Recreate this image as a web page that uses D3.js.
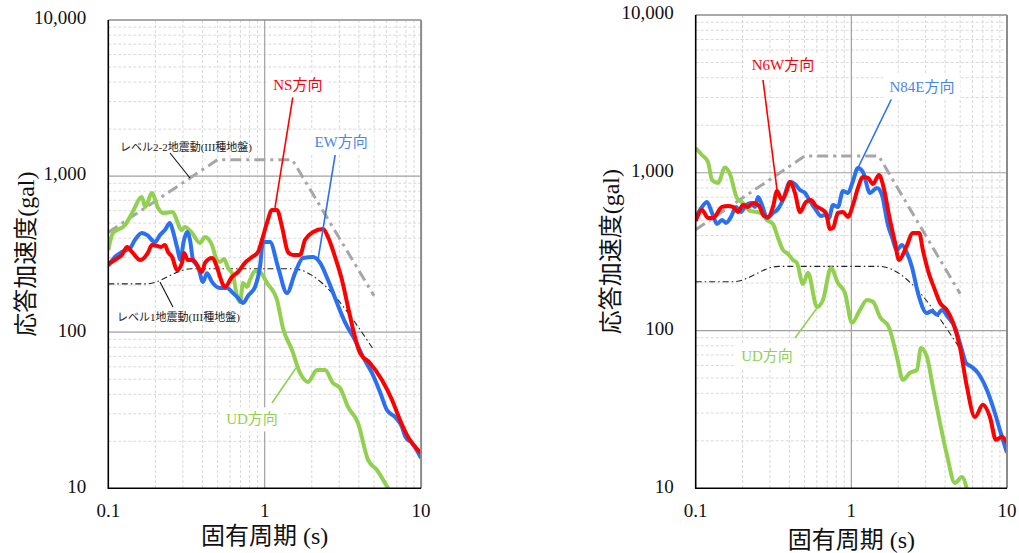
<!DOCTYPE html>
<html>
<head>
<meta charset="utf-8">
<script src="https://cdn.jsdelivr.net/npm/d3@7"></script>
<style>
  body { margin: 0; background: #fff; }
  text { font-family: "Liberation Serif", "Noto Sans CJK JP", serif; }
</style>
</head>
<body>
<div id="chart-area"></div>
<script>
// response spectra, [period (s), acceleration (gal)]
var nsLeft = [[0.1,274],[0.110,290],[0.122,312],[0.132,351],[0.142,326],[0.160,290],[0.179,322],[0.190,362],[0.205,357],[0.217,351],[0.230,362],[0.241,326],[0.256,303],[0.275,250],[0.296,278],[0.305,322],[0.323,290],[0.348,290],[0.397,243],[0.415,278],[0.460,299],[0.495,262],[0.518,226],[0.557,195],[0.618,226],[0.675,243],[0.748,278],[0.830,303],[0.906,326],[0.961,390],[1.034,501],[1.113,607],[1.198,607],[1.291,472],[1.409,326],[1.517,312],[1.682,312],[1.81,390],[2.04,438],[2.36,458],[2.54,407],[2.82,303],[3.12,216],[3.41,145],[3.78,93],[4.07,73.5],[4.71,63.5],[5.62,49.4],[6.52,36.8],[7.33,27.4],[8.25,21.3],[10,16.8]];
var ewLeft = [[0.1,266],[0.110,303],[0.122,326],[0.138,346],[0.148,390],[0.164,432],[0.177,419],[0.199,378],[0.214,419],[0.230,451],[0.248,501],[0.260,438],[0.275,351],[0.290,290],[0.302,373],[0.319,438],[0.333,390],[0.348,290],[0.375,262],[0.403,210],[0.428,239],[0.460,210],[0.518,192],[0.574,192],[0.627,178],[0.675,166],[0.727,154],[0.782,171],[0.867,195],[0.933,262],[0.975,378],[1.081,378],[1.216,262],[1.388,178],[1.562,239],[1.757,299],[2.04,303],[2.26,278],[2.54,216],[2.90,154],[3.26,116],[3.78,89],[4.25,69.4],[4.85,54.8],[5.46,41.4],[6.05,31.7],[6.81,28.6],[7.55,24.7],[7.95,21.3],[8.75,19.5],[10,15.6]];
var udLeft = [[0.1,336],[0.107,432],[0.128,486],[0.142,580],[0.164,735],[0.172,634],[0.190,779],[0.208,625],[0.224,580],[0.256,589],[0.296,451],[0.309,472],[0.343,432],[0.386,373],[0.415,407],[0.460,362],[0.495,290],[0.518,282],[0.549,294],[0.583,258],[0.627,232],[0.665,171],[0.695,156],[0.727,207],[0.770,195],[0.805,216],[0.867,247],[0.933,243],[1.034,207],[1.198,161],[1.309,106],[1.495,76.9],[1.682,54.8],[1.892,48],[2.16,57.3],[2.43,57.3],[2.73,47.3],[3.03,43.9],[3.41,33.2],[3.95,26.2],[4.58,15.2],[5.22,13.1],[6.14,10],[6.6,8.8]];

var n6wRight = [[0.1,495],[0.1097,581],[0.12,517],[0.1292,517],[0.1475,607],[0.1613,616],[0.1736,607],[0.187,564],[0.201,625],[0.2167,607],[0.2334,644],[0.255,616],[0.2747,532],[0.2914,525],[0.3137,607],[0.3329,767],[0.3584,672],[0.386,778],[0.4033,874],[0.4343,745],[0.4677,564],[0.511,653],[0.55,672],[0.5925,616],[0.638,590],[0.687,556],[0.729,440],[0.762,447],[0.82,556],[0.883,564],[0.951,525],[1.024,625],[1.102,801],[1.187,940],[1.279,927],[1.377,849],[1.504,968],[1.62,790],[1.76,517],[1.905,364],[2.022,280],[2.242,334],[2.486,415],[2.73,415],[2.88,324],[3.1,242],[3.44,181],[3.71,150],[4.11,135],[4.49,113],[4.98,78.7],[5.53,43.9],[6.22,28.3],[7.0,33.8],[7.77,28.3],[8.49,20.3],[9.27,21.2],[10,19.4]];
var n84eRight = [[0.1,517],[0.1097,607],[0.1182,653],[0.1273,556],[0.137,474],[0.1475,502],[0.1565,481],[0.1686,525],[0.1815,607],[0.1954,564],[0.2104,625],[0.2266,644],[0.2404,607],[0.2513,703],[0.2666,625],[0.287,517],[0.3137,556],[0.338,590],[0.3637,672],[0.4033,874],[0.4343,849],[0.4677,778],[0.5035,745],[0.542,663],[0.5925,581],[0.638,532],[0.687,541],[0.718,517],[0.762,625],[0.82,607],[0.883,767],[0.951,745],[1.024,887],[1.102,1072],[1.187,1012],[1.317,745],[1.46,801],[1.573,723],[1.718,467],[1.823,392],[1.963,324],[2.113,349],[2.276,310],[2.45,253],[2.678,173],[3.06,129],[3.29,133],[3.55,126],[3.82,135],[4.17,122],[4.63,105],[5.13,75.4],[5.45,62.3],[5.95,58.8],[6.5,53.9],[7.43,42],[8.36,30],[9.0,23.4],[10,16.8]];
var udRight = [[0.1,1436],[0.1097,1297],[0.12,1171],[0.1273,900],[0.139,862],[0.1543,1080],[0.166,982],[0.184,692],[0.201,644],[0.223,573],[0.2476,564],[0.2666,548],[0.287,502],[0.3137,474],[0.338,386],[0.3637,324],[0.3916,306],[0.4217,280],[0.4473,268],[0.4889,197],[0.5265,232],[0.6016,141],[0.657,156],[0.7396,249],[0.82,200],[0.91,173],[1.009,112],[1.136,135],[1.26,156],[1.377,152],[1.527,122],[1.744,105],[1.963,68],[2.145,48.6],[2.379,53.9],[2.638,56.3],[2.8,77.6],[3.06,68],[3.34,43.9],[3.71,26],[4.11,16.3],[4.63,10.8],[5.13,11.8],[5.61,9.3]];

// design spectra corner points (same in both panels)
var level22 = [[0.1,436],[0.5,1275],[1.5,1275],[5,171]];
var level1 = [[0.1,204],[0.174,204],[0.34,255],[1.5,255],[5,76.5]];

var xTicks = [0.1, 1, 10];
var xTickLabels = ["0.1", "1", "10"];
var yTicks = [10, 100, 1000, 10000];
var yTickLabels = ["10", "100", "1,000", "10,000"];

var RED = "#ff0000", BLUE = "#2a70f0", GREEN = "#92d050";

var svg = d3.select("#chart-area").append("svg")
  .attr("width", 1019).attr("height", 553);

var panels = [
  { left: 108.3, right: 421.1, top: 20, bottom: 488.3, ytitleX: 28, xtitleY: 538,
    series: [[udLeft, GREEN], [ewLeft, BLUE], [nsLeft, RED]],
    notes: [
      { text: "NS方向", color: RED, at: [1.63, 3720], from: [1.52, 3307], to: [1.163, 625], size: 15, box: true },
      { text: "EW方向", color: "#4a84ee", lc: BLUE, at: [3.08, 1606], from: [2.82, 1365], to: [2.19, 290], size: 15, box: true },
      { text: "UD方向", color: GREEN, at: [0.83, 27], from: [1.113, 35.2], to: [1.585, 59], size: 15, box: true },
      { text: "レベル2-2地震動(III種地盤)", color: "#222", lc: "#111", at: [0.1188, 1514], from: [0.248, 1406], to: [0.333, 972], size: 11, anchor: "start" },
      { text: "レベル1地震動(III種地盤)", color: "#222", lc: "#111", at: [0.1137, 123], from: [0.214, 210], to: [0.259, 145], size: 11, anchor: "start" }
    ] },
  { left: 695.7, right: 1007, top: 15, bottom: 488.3, ytitleX: 613, xtitleY: 542,
    series: [[udRight, GREEN], [n84eRight, BLUE], [n6wRight, RED]],
    notes: [
      { text: "N6W方向", color: RED, at: [0.3637, 4683], from: [0.2706, 3873], to: [0.333, 778], size: 15, box: true },
      { text: "N84E方向", color: "#4a84ee", lc: BLUE, at: [2.84, 3397], from: [1.85, 3066], to: [1.102, 1072], size: 15, box: true },
      { text: "UD方向", color: GREEN, at: [0.287, 67.1], from: [0.4343, 89.8], to: [0.6016, 139], size: 15, box: true }
    ] }
];

panels.forEach(function(p, i) {
  var x = d3.scaleLog().domain([0.1, 10]).range([p.left, p.right]);
  var y = d3.scaleLog().domain([10, 10000]).range([p.bottom, p.top]);
  var g = svg.append("g");

  // minor grid
  x.ticks().forEach(function(t) {
    if (xTicks.indexOf(t) >= 0) return;
    g.append("line").attr("x1", x(t)).attr("x2", x(t)).attr("y1", p.top).attr("y2", p.bottom)
      .attr("stroke", "#d9d9d9").attr("stroke-width", 1).attr("stroke-dasharray", "3,2");
  });
  y.ticks().forEach(function(t) {
    if (yTicks.indexOf(t) >= 0) return;
    g.append("line").attr("x1", p.left).attr("x2", p.right).attr("y1", y(t)).attr("y2", y(t))
      .attr("stroke", "#d9d9d9").attr("stroke-width", 1).attr("stroke-dasharray", "3,2");
  });
  // major grid
  [1].forEach(function(t) {
    g.append("line").attr("x1", x(t)).attr("x2", x(t)).attr("y1", p.top).attr("y2", p.bottom)
      .attr("stroke", "#a0a0a0").attr("stroke-width", 1.2);
  });
  [100, 1000].forEach(function(t) {
    g.append("line").attr("x1", p.left).attr("x2", p.right).attr("y1", y(t)).attr("y2", y(t))
      .attr("stroke", "#a0a0a0").attr("stroke-width", 1.2);
  });

  var clipId = "clip" + i;
  svg.append("clipPath").attr("id", clipId).append("rect")
    .attr("x", p.left).attr("y", p.top).attr("width", p.right - p.left).attr("height", p.bottom - p.top);
  var plot = g.append("g").attr("clip-path", "url(#" + clipId + ")");

  var straight = d3.line().x(function(d) { return x(d[0]); }).y(function(d) { return y(d[1]); });
  var smooth = d3.line().x(function(d) { return x(d[0]); }).y(function(d) { return y(d[1]); })
    .curve(d3.curveMonotoneX);

  plot.append("path").attr("d", straight(level22)).attr("fill", "none")
    .attr("stroke", "#a6a6a6").attr("stroke-width", 3).attr("stroke-dasharray", "11,5,3,5");
  plot.append("path").attr("d", smooth(level1)).attr("fill", "none")
    .attr("stroke", "#222").attr("stroke-width", 1.1).attr("stroke-dasharray", "6,3,1.5,3");

  p.series.forEach(function(s) {
    plot.append("path").attr("d", smooth(s[0])).attr("fill", "none")
      .attr("stroke", s[1]).attr("stroke-width", 4).attr("stroke-linejoin", "round");
  });

  // annotations
  p.notes.forEach(function(n) {
    g.append("line").attr("x1", x(n.from[0])).attr("y1", y(n.from[1]))
      .attr("x2", x(n.to[0])).attr("y2", y(n.to[1]))
      .attr("stroke", n.lc || n.color).attr("stroke-width", n.size > 12 ? 1.6 : 1.1);
    var lg = g.append("g");
    var t = lg.append("text").attr("x", x(n.at[0])).attr("y", y(n.at[1]))
      .attr("text-anchor", n.anchor || "middle").attr("dominant-baseline", "middle")
      .attr("font-size", n.size).attr("fill", n.color).text(n.text);
    if (n.box) {
      var b = t.node().getBBox();
      lg.insert("rect", "text").attr("x", b.x - 6).attr("y", b.y - 4)
        .attr("width", b.width + 12).attr("height", b.height + 8).attr("fill", "#fff");
    }
  });

  // frame
  g.append("line").attr("x1", p.left).attr("x2", p.right).attr("y1", p.top).attr("y2", p.top)
    .attr("stroke", "#8c8c8c").attr("stroke-width", 1.5);
  g.append("line").attr("x1", p.right).attr("x2", p.right).attr("y1", p.top).attr("y2", p.bottom)
    .attr("stroke", "#8c8c8c").attr("stroke-width", 2);
  g.append("line").attr("x1", p.left).attr("x2", p.left).attr("y1", p.top).attr("y2", p.bottom + 0.8)
    .attr("stroke", "#000").attr("stroke-width", 1.6);
  g.append("line").attr("x1", p.left).attr("x2", p.right).attr("y1", p.bottom).attr("y2", p.bottom)
    .attr("stroke", "#000").attr("stroke-width", 1.6);

  // tick labels
  yTicks.forEach(function(t, k) {
    g.append("text").attr("x", p.left - 22).attr("y", y(t)).attr("text-anchor", "end")
      .attr("dominant-baseline", "middle").attr("font-size", 19).attr("fill", "#111").text(yTickLabels[k]);
  });
  xTicks.forEach(function(t, k) {
    g.append("text").attr("x", x(t)).attr("y", 513).attr("text-anchor", "middle")
      .attr("dominant-baseline", "middle").attr("font-size", 19).attr("fill", "#111").text(xTickLabels[k]);
  });

  // axis titles
  g.append("text").attr("transform", "translate(" + p.ytitleX + "," + ((p.top + p.bottom) / 2) + ") rotate(-90)")
    .attr("text-anchor", "middle").attr("dominant-baseline", "middle")
    .attr("font-size", 24).attr("fill", "#111").text("応答加速度(gal)");
  g.append("text").attr("x", (p.left + p.right) / 2).attr("y", p.xtitleY)
    .attr("text-anchor", "middle").attr("dominant-baseline", "middle")
    .attr("font-size", 24).attr("fill", "#111").text("固有周期 (s)");
});
</script>
</body>
</html>
